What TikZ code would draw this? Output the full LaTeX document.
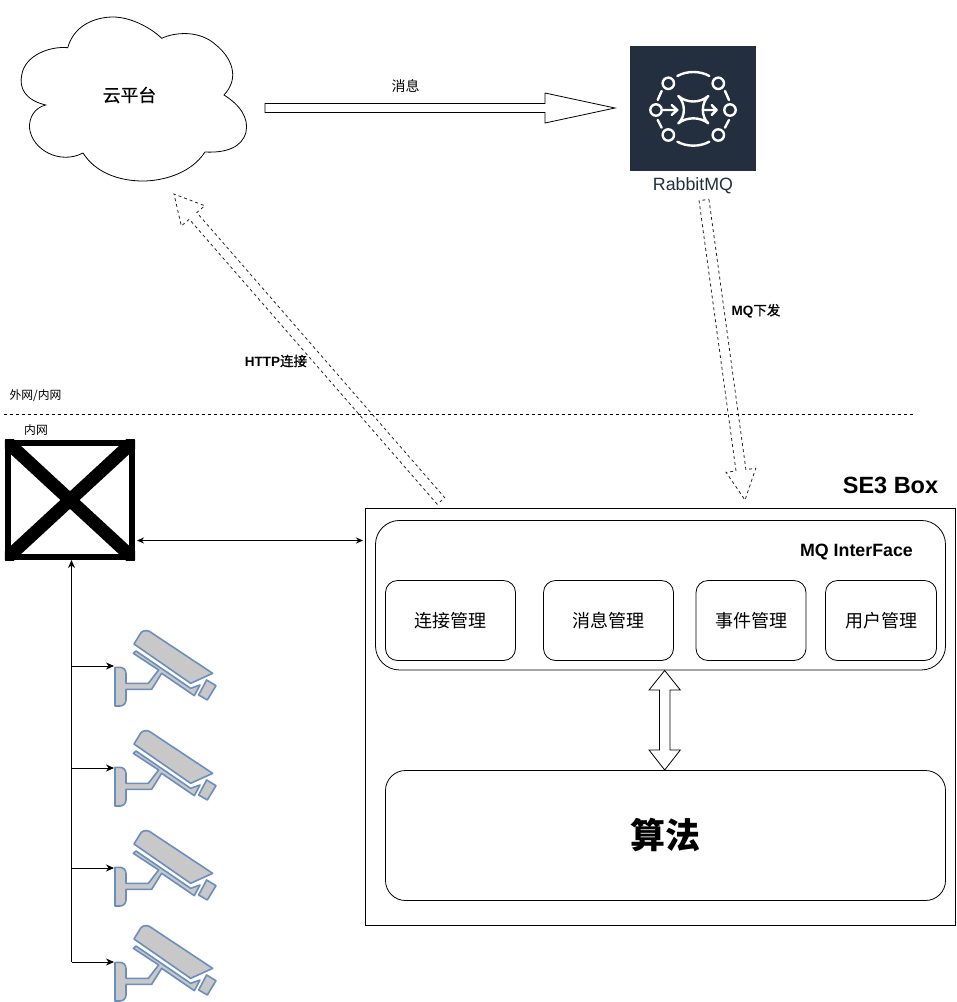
\documentclass[tikz,border=0pt]{standalone}
\usepackage{fontspec}
\setmainfont{Liberation Sans}
\newfontfamily\cjk{Noto Sans CJK SC}
\newfontfamily\cjkmed[FakeBold=0.7]{Noto Sans CJK SC}
\usetikzlibrary{calc,arrows.meta}
\definecolor{awsdark}{HTML}{232F3E}
\definecolor{camfill}{HTML}{C8C8C8}
\definecolor{camline}{HTML}{6C8EBF}
\newcommand{\hollowarrow}[6][]{%
  \coordinate (hb) at ($(#3)!#5!(#2)$);
  \draw[hollow,#1] ($(#2)!#4!90:(#3)$) -- ($(hb)!#4!90:(#3)$) -- ($(hb)!#6!90:(#3)$) -- (#3)
    -- ($(hb)!#6!-90:(#3)$) -- ($(hb)!#4!-90:(#3)$) -- ($(#2)!#4!-90:(#3)$) -- cycle;}
\tikzset{
  x=1pt,y=-1pt,
  base/.style={line width=0.8pt,draw=black},
  hollow/.style={line width=0.8pt,draw=black,fill=white,line join=miter},
  dashhollow/.style={dash pattern=on 3pt off 3pt,draw=black!85},
  plainbox/.style={base,rectangle,inner sep=0pt},
  roundbox/.style={base,rectangle,rounded corners=12pt,inner sep=0pt,font=\cjk\fontsize{18}{20}\selectfont},
  lbl/.style={inner sep=0pt,text=black},
  thin arrow/.style={line width=0.9pt,-{Stealth[length=8pt,width=7pt]}},
  both arrow/.style={line width=0.9pt,{Stealth[length=7pt,width=6pt]}-{Stealth[length=7pt,width=6pt]}},
  cam/.style={line width=1.6pt,draw=camline,fill=camfill,line join=round},
  icon/.style={line width=2.4pt,draw=white,line cap=round,line join=round},
}
\begin{document}
\begin{tikzpicture}
\useasboundingbox (0,0) rectangle (957,1002);
% cloud
\draw[base,fill=white] (67.7,47.7)
  .. controls (75,22) and (100,17) .. (113,17)
  .. controls (130,17) and (150,27) .. (161.7,38.3)
  .. controls (175,32) and (200,30) .. (216,45)
  .. controls (232,58) and (240,78) .. (224,95)
  .. controls (240,105) and (249,118) .. (246,132)
  .. controls (242,148) and (225,153) .. (205,152)
  .. controls (190,175) and (160,181) .. (143,181)
  .. controls (118,181) and (95,172) .. (83,153)
  .. controls (60,165) and (32,150) .. (29.5,128)
  .. controls (29,118) and (34,108) .. (45.7,105)
  .. controls (25,100) and (19,88) .. (21.7,75)
  .. controls (25,55) and (50,46) .. (67.7,47.7) -- cycle;
\node[lbl,font=\cjkmed\fontsize{17.8}{20}\selectfont] (cloud) at (129.5,95) {云平台};
\coordinate (msgA) at (265,108);
\coordinate (msgB) at (615,108);
\hollowarrow{msgA}{msgB}{4.5pt}{70pt}{15pt}
\node[lbl,font=\cjk\fontsize{14}{16}\selectfont] (msg) at (405.5,86) {消息};
% RabbitMQ icon
\node[rectangle,fill=awsdark,minimum width=125.5pt,minimum height=125pt,inner sep=0pt] (mq) at (692.8,108.8) {};
\node[lbl,text=awsdark,font=\fontsize{17.8}{20}\selectfont] (mqlabel) at (693,186) {RabbitMQ};
\begin{scope}[shift={(620,40)},x=0.3333pt,y=-0.3333pt]
  \foreach \p in {(145,130),(295,130),(108,210),(330,210),(145,285),(295,285)}
    \draw[icon] \p circle (5.7pt);
  \draw[icon] (172,108) .. controls (200,92) and (240,92) .. (268,108);
  \draw[icon] (172,305) .. controls (200,321) and (240,321) .. (268,305);
  \draw[icon] (125,153) -- (113,180);
  \draw[icon] (113,240) -- (125,263);
  \draw[icon] (315,153) -- (327,180);
  \draw[icon] (327,240) -- (315,263);
  \draw[icon] (175,168) .. controls (200,190) and (240,190) .. (265,168)
     .. controls (243,190) and (243,230) .. (265,250)
     .. controls (240,230) and (200,230) .. (175,250)
     .. controls (197,230) and (197,190) .. (175,168) -- cycle;
  \draw[icon] (128,210) -- (172,210) (155,195) -- (172,210) -- (155,225);
  \draw[icon] (250,210) -- (290,210) (275,195) -- (290,210) -- (275,225);
\end{scope}
% dashed hollow arrows
\coordinate (httpA) at (441,501);
\coordinate (httpB) at (174,194);
\hollowarrow[dashhollow]{httpA}{httpB}{5pt}{29pt}{15.5pt}
\node[lbl,font=\bfseries\fontsize{13.5}{15}\selectfont] (http) at (276,361) {HTTP{\mdseries\cjkmed\fontsize{13.5}{15}\selectfont 连接}};
\coordinate (dlA) at (704,200);
\coordinate (dlB) at (745,500);
\hollowarrow[dashhollow]{dlA}{dlB}{5pt}{30pt}{15pt}
\node[lbl,font=\bfseries\fontsize{13.5}{15}\selectfont] (dl) at (756,311) {MQ{\mdseries\cjkmed\fontsize{13.5}{15}\selectfont 下发}};
% separator
\coordinate (sepA) at (4,414);
\coordinate (sepB) at (915,414);
\draw[line width=0.8pt,dash pattern=on 3pt off 3pt] (sepA) -- (sepB);
\node[lbl,font=\cjk\fontsize{11.8}{14}\selectfont] (wan) at (35.5,396) {外网/内网};
\node[lbl,font=\cjk\fontsize{11.8}{14}\selectfont] (lan) at (36,430) {内网};
% switch
\node[rectangle,minimum width=130pt,minimum height=120pt,inner sep=0pt] (sw) at (70,500) {};
\begin{scope}
  \clip (sw.north west) rectangle (sw.south east);
  \draw[line width=13pt,line cap=butt] (sw.north west) -- (sw.south east);
  \draw[line width=13pt,line cap=butt] (sw.north east) -- (sw.south west);
\end{scope}
\node[rectangle,draw=black,line width=6pt,minimum width=124pt,minimum height=114pt,inner sep=0pt] (swframe) at (sw.center) {};
% SE3 box
\node[plainbox,minimum width=590pt,minimum height=417pt] (se3) at (660.5,717) {};
\node[lbl,font=\bfseries\fontsize{23.5}{26}\selectfont] (se3lbl) at (890.5,485) {SE3 Box};
\node[base,rectangle,rounded corners=24pt,minimum width=570pt,minimum height=149.5pt,inner sep=0pt] (iface) at (660.5,595.2) {};
\node[lbl,font=\bfseries\fontsize{17.8}{20}\selectfont] (ifacelbl) at (856.5,552.5) {MQ InterFace};
\node[roundbox,minimum width=130pt,minimum height=80pt] (m1) at (450.5,620.5) {连接管理};
\node[roundbox,minimum width=130pt,minimum height=80pt] (m2) at (608.5,620.5) {消息管理};
\node[roundbox,minimum width=110pt,minimum height=80pt] (m3) at (751,620.5) {事件管理};
\node[roundbox,minimum width=111pt,minimum height=80pt] (m4) at (881,620.5) {用户管理};
\node[base,rectangle,rounded corners=20pt,inner sep=0pt,minimum width=560pt,minimum height=130pt,font=\cjk\bfseries\fontsize{35}{40}\selectfont] (algo) at (665.5,835.5) {算法};
% double hollow arrow
\coordinate (tt) at (664.7,670.5);
\coordinate (bb) at (664.7,770);
\draw[hollow] (tt) -- (680.3,690) -- (670,690) -- (670,750) -- (680.3,750) -- (bb) -- (649,750) -- (659.5,750) -- (659.5,690) -- (649,690) -- cycle;
% switch link
\coordinate (swE) at (137,540.5);
\coordinate (seW) at (363,540.5);
\draw[both arrow] (swE) -- (seW);
% bus
\coordinate (busT) at (71.5,560);
\coordinate (busB) at (71.5,962);
\draw[line width=1.1pt,-{Stealth[length=8pt,width=7pt]}] (busB) -- (busT);
\foreach \yy/\dd/\nm in {666/0/a,768/100/b,868/200/c,962/295/d}{
  \coordinate (j\nm) at (71.5,\yy);
  \coordinate (k\nm) at (114,\yy);
  \begin{scope}[shift={(0,\dd)}]
  \begin{scope}[shift={(60,620)},x=0.3333pt,y=-0.3333pt]
    \draw[cam] (222,72) -- (243,38) .. controls (248,32) and (260,30) .. (268,34) -- (458,160) -- (392,190) -- cycle;
    \draw[cam] (228,93) -- (392,205) -- (420,195) -- (403,227) -- (305,160) -- (275,208) -- (198,208) -- (198,240)
      .. controls (198,250) and (190,258) .. (180,258) -- (165,258) -- (165,142) -- (180,142)
      .. controls (190,142) and (198,150) .. (198,160) -- (198,190) -- (265,190) -- (296,150) -- (220,100) -- cycle;
    \draw[cam] (440,180) -- (468,197) -- (442,240) -- (416,225) -- cycle;
  \end{scope}
  \end{scope}
  \draw[thin arrow] (j\nm) -- (k\nm);
}
\end{tikzpicture}
\end{document}
